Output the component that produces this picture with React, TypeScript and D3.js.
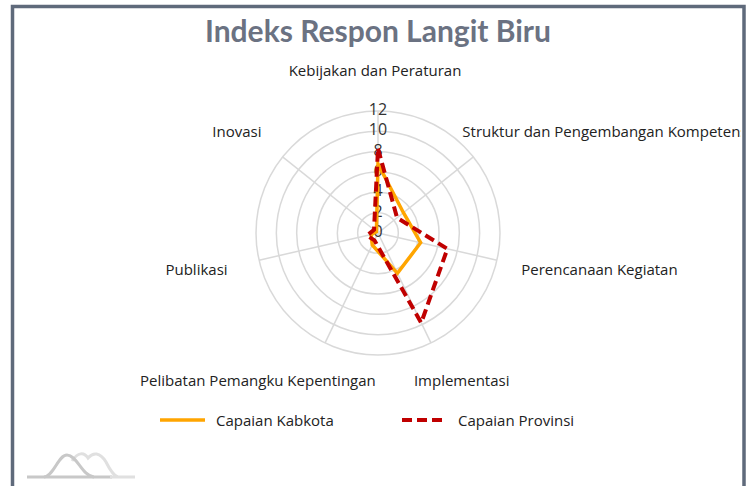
import React, { useRef, useEffect } from 'react';
import * as d3 from 'd3';

// axis names, clockwise from the top
const categories = [
  'Kebijakan dan Peraturan',
  'Struktur dan Pengembangan Kompetensi',
  'Perencanaan Kegiatan',
  'Implementasi',
  'Pelibatan Pemangku Kepentingan',
  'Publikasi',
  'Inovasi',
];

const kabkota = [6.8, 3.2, 4.3, 4.4, 1.3, 0.7, 0.2];
const provinsi = [8.3, 2.4, 7, 9.8, 0.8, 1.1, 0.5];

const tickValues = [0, 2, 4, 6, 8, 10, 12];

const seriesNames = ['Capaian Kabkota', 'Capaian Provinsi'];

const W = 750;
const H = 486;
const cx = 378;
const cy = 233;
const R = 122;
const labelFont = '"Open Sans", "Noto Sans", sans-serif';

const RadarChart = () => {
  const ref = useRef<SVGSVGElement | null>(null);

  useEffect(() => {
    const svg = d3.select(ref.current);
    if (!ref.current) return;
    svg.selectAll('*').remove();

    // clip so the long label gets cut by the frame like the original
    svg.append('clipPath').attr('id', 'inside')
      .append('rect').attr('x', 0).attr('y', 0).attr('width', 741).attr('height', H);

    // frame
    svg.append('rect')
      .attr('x', 12.5).attr('y', 6.5)
      .attr('width', 731.5).attr('height', 520)
      .attr('fill', '#fff')
      .attr('stroke', '#5f6a7b')
      .attr('stroke-width', 3.5);

    svg.append('text')
      .attr('x', cx).attr('y', 30)
      .attr('text-anchor', 'middle')
      .attr('dominant-baseline', 'central')
      .style('font-family', 'Lato, sans-serif')
      .style('font-weight', 700)
      .style('font-size', '30px')
      .style('fill', '#6b7282')
      .text('Indeks Respon Langit Biru');

    const r = d3.scaleLinear().domain([0, 12]).range([0, R]);
    const angle = d3.scalePoint<number>()
      .domain(d3.range(categories.length + 1))
      .range([0, 2 * Math.PI]);

    const g = svg.append('g').attr('transform', `translate(${cx},${cy})`);

    // rings
    g.selectAll('.ring')
      .data(tickValues.slice(1))
      .enter().append('circle')
      .attr('r', d => r(d))
      .attr('fill', 'none')
      .attr('stroke', '#d9d9d9')
      .attr('stroke-width', 1.5);

    // spokes
    g.selectAll('.spoke')
      .data(categories)
      .enter().append('line')
      .attr('x1', 0).attr('y1', 0)
      .attr('x2', (d, i) => R * Math.sin(angle(i)!))
      .attr('y2', (d, i) => -R * Math.cos(angle(i)!))
      .attr('stroke', '#d9d9d9')
      .attr('stroke-width', 1.5);

    // tick labels
    g.selectAll('.tick')
      .data(tickValues)
      .enter().append('text')
      .attr('x', 0)
      .attr('y', d => -r(d) - 2)
      .attr('text-anchor', 'middle')
      .attr('dominant-baseline', 'central')
      .style('font-family', labelFont)
      .style('font-size', '16px')
      .style('fill', '#333')
      .text(d => d);

    // point labels, a bit wider vertically than horizontally
    const labelRx = R + 30;
    const labelRy = R + 41;
    svg.append('g')
      .attr('clip-path', 'url(#inside)')
      .append('g')
      .attr('transform', `translate(${cx - 3},${cy})`)
      .selectAll('text')
      .data(categories)
      .enter().append('text')
      .attr('dominant-baseline', 'central')
      .style('font-family', labelFont)
      .style('font-size', '15px')
      .style('fill', '#222')
      .text(d => d)
      .each(function (d, i) {
        const a = angle(i)!;
        const w = (this as SVGTextElement).getComputedTextLength();
        const px = labelRx * Math.sin(a);
        const py = -labelRy * Math.cos(a);
        const frac = (1 - Math.sin(a)) / 2;
        d3.select(this).attr('x', px - frac * w).attr('y', py);
      });

    const line = d3.lineRadial<number>()
      .angle((d, i) => angle(i)!)
      .radius(d => r(d))
      .curve(d3.curveLinearClosed);

    g.append('path')
      .attr('d', line(kabkota))
      .attr('fill', 'none')
      .attr('stroke', '#ffa500')
      .attr('stroke-width', 3.5)
      .attr('stroke-miterlimit', 10);

    g.append('path')
      .attr('d', line(provinsi))
      .attr('fill', 'none')
      .attr('stroke', '#c00000')
      .attr('stroke-width', 4)
      .attr('stroke-dasharray', '10,5')
      .attr('stroke-miterlimit', 10);

    // legend
    const legend = svg.append('g').attr('transform', 'translate(0,420)');
    const items = [
      { x: 160, color: '#ffa500', dash: null, w: 3.5 },
      { x: 402, color: '#c00000', dash: '10,5', w: 4 },
    ];
    items.forEach((it, i) => {
      legend.append('line')
        .attr('x1', it.x).attr('x2', it.x + 45)
        .attr('y1', 0).attr('y2', 0)
        .attr('stroke', it.color)
        .attr('stroke-width', it.w)
        .attr('stroke-dasharray', it.dash);
      legend.append('text')
        .attr('x', it.x + 56).attr('y', 0)
        .attr('dominant-baseline', 'central')
        .style('font-family', labelFont)
        .style('font-size', '15px')
        .style('fill', '#222')
        .text(seriesNames[i]);
    });

    // little mountain logo bottom-left
    const logo = svg.append('g');
    logo.append('path')
      .attr('d', 'M27,477 L112,477')
      .attr('stroke', '#c8c8c8').attr('stroke-width', 3).attr('fill', 'none');
    logo.append('path')
      .attr('d', 'M110,477 L135,477 M72,461 C78,452 84,452 88,458 C93,452 100,452 106,462 C110,470 114,476 118,477')
      .attr('stroke', '#e0e0e0').attr('stroke-width', 3).attr('fill', 'none');
    logo.append('path')
      .attr('d', 'M44,477 C54,476 58,455 67,455 C77,455 82,476 94,477')
      .attr('stroke', '#c8c8c8').attr('stroke-width', 3).attr('fill', 'none');
  }, []);

  return (
    <svg ref={ref} width={W} height={H}
      style={{ position: 'absolute', left: 0, top: 0, background: '#fff' }} />
  );
};

export default function App() {
  return <RadarChart />;
}
